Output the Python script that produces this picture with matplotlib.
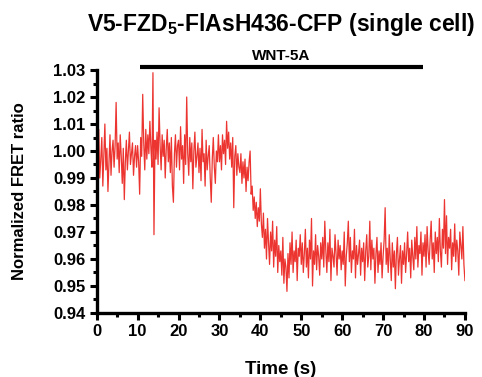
import numpy as np
import matplotlib
matplotlib.use("Agg")
import matplotlib.pyplot as plt
from matplotlib.ticker import MultipleLocator, FormatStrFormatter

plt.rcParams['font.family'] = ['Liberation Sans', 'DejaVu Sans']
plt.rcParams['font.weight'] = 'bold'
plt.rcParams['mathtext.fontset'] = 'custom'
plt.rcParams['mathtext.rm'] = 'Liberation Sans:bold'
plt.rcParams['mathtext.bf'] = 'Liberation Sans:bold'

# FRET ratio trace, sampled every 0.25 s from 0 to 90 s
sample_interval = 0.25
fret_ratio = [
    # 0-5 s
    1.003, 0.995, 1.008, 0.990, 0.997, 1.005, 0.987, 0.999, 1.010, 0.993,
    1.001, 0.985, 0.996, 1.006, 0.991, 1.000, 1.004, 0.994, 1.002, 1.018,
    # 5-10 s
    0.997, 1.003, 0.992, 1.006, 0.998, 0.988, 1.001, 0.982, 0.996, 1.004,
    0.993, 1.000, 1.007, 0.995, 0.999, 1.003, 0.991, 0.998, 1.002, 0.994,
    # 10-15 s
    1.002, 0.996, 0.984, 1.005, 0.998, 1.021, 1.003, 0.993, 1.008, 0.997,
    1.006, 0.999, 1.011, 1.001, 0.994, 1.029, 0.969, 1.004, 0.997, 1.007,
    # 15-20 s
    0.995, 1.016, 1.002, 0.993, 1.006, 0.998, 1.004, 0.990, 1.001, 1.008,
    0.996, 1.003, 0.992, 1.005, 0.987, 0.981, 0.999, 1.006, 0.994, 1.002,
    # 20-25 s
    1.004, 0.993, 1.009, 0.997, 1.002, 0.988, 1.006, 0.995, 1.020, 0.999,
    0.991, 1.005, 0.996, 1.003, 0.986, 1.000, 1.007, 0.994, 0.998, 1.003,
    # 25-30 s
    0.992, 1.001, 0.989, 1.008, 0.996, 0.999, 0.987, 1.004, 0.993, 0.998,
    1.002, 0.990, 0.981, 0.997, 1.005, 0.994, 0.988, 1.000, 0.996, 1.006,
    # 30-35 s
    0.996, 1.002, 0.993, 1.006, 0.999, 1.004, 0.995, 1.011, 1.001, 1.007,
    0.997, 1.003, 0.994, 1.005, 0.979, 0.998, 1.002, 0.991, 0.999, 0.994,
    # 35-40 s
    0.992, 0.999, 0.988, 0.996, 0.990, 0.997, 0.985, 0.994, 0.989, 0.996,
    1.000, 0.984, 0.987, 0.978, 0.983, 0.975, 0.981, 0.972, 0.979, 0.974,
    # 40-45 s
    0.986, 0.973, 0.968, 0.977, 0.964, 0.971, 0.960, 0.975, 0.966, 0.958,
    0.970, 0.963, 0.974, 0.957, 0.967, 0.961, 0.972, 0.955, 0.965, 0.959,
    # 45-50 s
    0.963, 0.954, 0.968, 0.951, 0.960, 0.957, 0.948, 0.962, 0.953, 0.966,
    0.958, 0.970, 0.955, 0.963, 0.959, 0.967, 0.952, 0.964, 0.961, 0.969,
    # 50-55 s
    0.958, 0.966, 0.955, 0.962, 0.971, 0.957, 0.964, 0.953, 0.967, 0.960,
    0.975, 0.950, 0.963, 0.958, 0.969, 0.956, 0.965, 0.961, 0.954, 0.966,
    # 55-60 s
    0.960, 0.968, 0.957, 0.974, 0.963, 0.955, 0.966, 0.959, 0.971, 0.952,
    0.964, 0.961, 0.957, 0.969, 0.962, 0.954, 0.967, 0.960, 0.965, 0.956,
    # 60-65 s
    0.963, 0.958, 0.970, 0.950, 0.961, 0.966, 0.974, 0.959, 0.968, 0.955,
    0.963, 0.960, 0.971, 0.953, 0.965, 0.958, 0.962, 0.967, 0.954, 0.964,
    # 65-70 s
    0.959, 0.966, 0.952, 0.963, 0.969, 0.957, 0.961, 0.974, 0.956, 0.967,
    0.960, 0.964, 0.951, 0.962, 0.968, 0.955, 0.963, 0.958, 0.966, 0.953,
    # 70-75 s
    0.961, 0.967, 0.979, 0.958, 0.964, 0.955, 0.969, 0.960, 0.952, 0.966,
    0.957, 0.963, 0.949, 0.962, 0.968, 0.954, 0.960, 0.965, 0.951, 0.963,
    # 75-80 s
    0.958, 0.966, 0.955, 0.962, 0.970, 0.959, 0.964, 0.953, 0.967, 0.961,
    0.956, 0.968, 0.960, 0.972, 0.957, 0.965, 0.962, 0.970, 0.954, 0.966,
    # 80-85 s
    0.961, 0.969, 0.957, 0.972, 0.963, 0.958, 0.967, 0.974, 0.960, 0.966,
    0.955, 0.970, 0.962, 0.968, 0.959, 0.975, 0.963, 0.957, 0.971, 0.964,
    # 85-90 s
    0.982, 0.962, 0.976, 0.958, 0.968, 0.964, 0.971, 0.956, 0.966, 0.961,
    0.973, 0.959, 0.967, 0.963, 0.954, 0.970, 0.965, 0.960, 0.972, 0.958,
    0.952,
]
time_s = np.arange(len(fret_ratio)) * sample_interval

stim_label = "WNT-5A"
stim_start, stim_end = 10.7, 79.7
stim_level = 1.0310

x_ticks = list(range(0, 91, 10))
y_ticks = [0.94, 0.95, 0.96, 0.97, 0.98, 0.99, 1.00, 1.01, 1.02, 1.03]

fig = plt.figure(figsize=(4.82, 3.77), dpi=100)
ax = fig.add_axes([0.2006, 0.1698, 0.764, 0.6445])

ax.plot(time_s, fret_ratio, color='#ec3530', linewidth=0.9)

ax.plot([stim_start, stim_end], [stim_level, stim_level], color='black',
        linewidth=3, solid_capstyle='butt', clip_on=False)
ax.text((stim_start + stim_end) / 2, stim_level + 0.0016, stim_label,
        ha='center', va='bottom', fontsize=11, fontweight='bold')

ax.set_xlim(0, 90)
ax.set_ylim(0.94, 1.03)
ax.set_xticks(x_ticks)
ax.set_yticks(y_ticks)
ax.xaxis.set_minor_locator(MultipleLocator(5))
ax.yaxis.set_minor_locator(MultipleLocator(0.005))
ax.yaxis.set_major_formatter(FormatStrFormatter('%.2f'))

for s in ['top', 'right']:
    ax.spines[s].set_visible(False)
for s in ['left', 'bottom']:
    ax.spines[s].set_linewidth(2.4)

ax.tick_params(which='major', direction='out', length=5, width=2.2,
               labelsize=12, pad=3)
ax.tick_params(which='minor', direction='out', length=3, width=2.2)
for lab in ax.get_xticklabels() + ax.get_yticklabels():
    lab.set_fontweight('bold')

ax.set_xlabel('Time (s)', fontsize=13.5, fontweight='bold', labelpad=16)
ax.set_ylabel('Normalized FRET ratio', fontsize=12, fontweight='bold', labelpad=19)
ax.set_title(r'V5-FZD$_\mathbf{5}$-FlAsH436-CFP (single cell)',
             fontsize=16.5, fontweight='bold', pad=28)

fig.savefig('out.png', dpi=100)
